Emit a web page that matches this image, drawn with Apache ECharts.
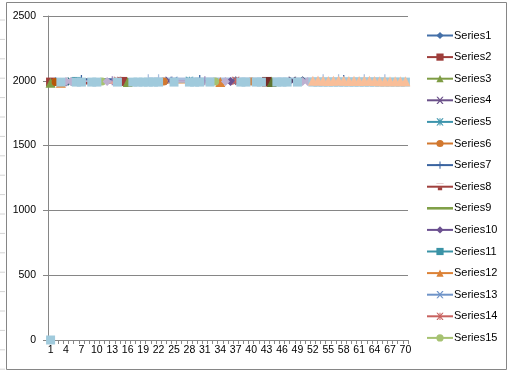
<!DOCTYPE html>
<html><head><meta charset="utf-8">
<script src="https://cdn.jsdelivr.net/npm/echarts@6/dist/echarts.min.js"></script>
<style>html,body{margin:0;padding:0;background:#fff}#c{width:511px;height:374px}</style>
</head><body><div id="c"></div>
<script>
const categories = ['1','2','3','4','5','6','7','8','9','10','11','12','13','14','15','16','17','18','19','20','21','22','23','24','25','26','27','28','29','30','31','32','33','34','35','36','37','38','39','40','41','42','43','44','45','46','47','48','49','50','51','52','53','54','55','56','57','58','59','60','61','62','63','64','65','66','67','68','69','70'];
const yTicks = [0, 500, 1000, 1500, 2000, 2500];

// sparse series: [categoryIndex(0-based), value]
const s1 = [[1,1995],[36,2000]];
const s2 = [[0,1990],[14,1995],[42,1990]];
const s3 = [[0,1985],[15,1990],[43,1995]];
const s4 = [[23,2000],[47,1995]];
const s5 = [[2,1990],[27,2000]];
const s6 = [[1,1990],[22,1995],[39,1995]];
const s7 = [[6,2010],[29,2010],[57,2010]];
const s8 = [[7,1995],[18,1995],[44,2000]];
const s9 = [[9,1995],[10,1995],[25,1995],[26,1995]];
const s10 = [[3,1990],[35,1995]];
const s11 = [[5,1995]];
const s12 = [[2,1985],[33,1990]];
const s13 = [[24,2000]];
const s14 = [[13,2000],[36,2000]];
const s15 = [[10,1995],[32,1995]];
const s16 = [[12,2000],[30,2000]];
const s17 = [[42,1995]];
const s18 = [[39,1995],[33,1995]];
const s19 = [[49,2000]];
const s20 = [[42,1995]];
const s21 = [[43,1990]];
const s22 = [[47,2000]];
const s23 = [[4,1995]];
const s24 = [[1,1990]];
const s25 = [[19,2015],[21,2015],[53,2015],[56,2015],[61,2015],[65,2015]];
const s26 = [[12,2000],[13,2000]];
const s27 = [[15,1995]];
const s28 = [[3,1995],[4,1995],[11,1995],[34,1995],[49,1995],[50,1995]];
const s29 = [0,null,1990,null,null,1990,1990,null,1990,1990,null,null,null,1990,null,null,1990,1990,1990,1990,1990,1990,null,null,1990,null,null,1990,1990,1990,null,1990,null,null,null,null,null,1990,1990,null,1990,1990,null,null,1990,1990,1990,null,1990,null,null,1990,1990,1990,1990,1990,1990,1990,1990,1990,1990,1990,1990,1990,1990,1990,1990,1990,1990,1990];
const s30 = [null,null,null,null,null,null,null,null,null,null,null,null,null,null,null,null,null,null,null,null,null,null,null,null,null,null,null,null,null,null,null,null,null,null,null,null,null,null,null,null,null,null,null,null,null,null,null,null,null,null,null,2000,2002,2000,1998,2000,2002,2000,1998,2000,1998,2000,2000,1998,1996,1996,1996,1996,1996,1996];

const seriesData = [s1,s2,s3,s4,s5,s6,s7,s8,s9,s10,s11,s12,s13,s14,s15,s16,s17,s18,s19,s20,s21,s22,s23,s24,s25,s26,s27,s28,s29,s30];
const colors = ['#4470A8','#9E3D3A','#7E9C44','#6A5089','#3C94AC','#D2782F',
  '#3A64A0','#A0403D','#80A048','#6B5090','#3A93A6','#DC8236',
  '#6F94C8','#C8625F','#A6C271','#9A85B8','#79C0D6','#F8B07A',
  '#2C4D75','#772C2A','#5F7530','#4D3B62','#276A7C','#B65708',
  '#A7BEDE','#DCA4A3','#C9DAA8','#BDB0D0','#A0CADC','#F9BE98'];
const X = 'path://M0,0L2,0L5,3.5L8,0L10,0L6,5L10,10L8,10L5,6.5L2,10L0,10L4,5Z';
const STAR = 'path://M0,0L2,0L4.3,3.2L4.3,0L5.7,0L5.7,3.2L8,0L10,0L6,5L10,10L8,10L5.7,6.8L5.7,10L4.3,10L4.3,6.8L2,10L0,10L4,5Z';
const PLUS = 'path://M4.3,0H5.7V4.3H10V5.7H5.7V10H4.3V5.7H0V4.3H4.3Z';
const DASH = 'path://M0,0H10V0.1H0ZM2,4H8V7H2Z';
const symbols = ['diamond','rect','triangle',X,STAR,'circle',PLUS,DASH,'none'];
const sizes = [9,9,10,8,8,8,9,9,0];

const series = seriesData.map((d,i)=>({
  name: 'Series' + (i+1),
  type: 'line',
  data: d,
  symbol: symbols[i%9],
  symbolSize: sizes[i%9],
  symbolKeepAspect: true,
  showAllSymbol: true,
  clip: false,
  color: colors[i],
  lineStyle: {width: 2.5, color: colors[i]},
  itemStyle: {color: colors[i]},
  emphasis: {disabled: true}
}));

const legendNames = ['Series1','Series2','Series3','Series4','Series5','Series6','Series7','Series8','Series9','Series10','Series11','Series12','Series13','Series14','Series15'];
const legendData = legendNames.map(n => n === 'Series9'
  ? {name: n, icon: 'path://M0,4H25V6.5H0Z', itemStyle:{color: colors[8]}}
  : {name: n});

const chart = echarts.init(document.getElementById('c'), null, {renderer:'canvas'});
const leftLines = [];
for (let k = 0; k < 19; k++) {
  leftLines.push({type:'line', shape:{x1:0,y1:20+k*19.4,x2:5,y2:20+k*19.4}, style:{stroke:'#D4D4D4',lineWidth:1}, silent:true});
}
chart.setOption({
  animation: false,
  textStyle: {fontFamily: 'Liberation Sans'},
  graphic: [
    {type:'rect', shape:{x:6.5,y:2.5,width:500,height:367}, style:{fill:'none',stroke:'#868686',lineWidth:1}, silent:true}
  ].concat(leftLines),
  grid: {left: 48, right: 103, top: 16, bottom: 34},
  legend: {
    orient: 'vertical',
    left: 421, top: 24,
    data: legendData,
    itemWidth: 26, itemHeight: 9, itemGap: 8.6,
    textStyle: {fontSize: 11, color: '#000', lineHeight: 13, fontFamily: 'Liberation Sans', padding:[0,0,0,-4]},
    selectedMode: false
  },
  xAxis: {
    type: 'category', data: categories, boundaryGap: true,
    axisLine: {lineStyle: {color: '#868686', width: 1}},
    axisTick: {show: true, interval: 0, length: 4, lineStyle: {color: '#868686'}},
    axisLabel: {interval: 2, color: '#000', fontSize: 10.5, margin: 5, fontFamily: 'Liberation Sans'},
    splitLine: {show: false}
  },
  yAxis: {
    type: 'value', min: 0, max: 2500, interval: 500,
    axisLine: {show: true, lineStyle: {color: '#868686', width: 1}},
    axisTick: {show: true, length: 5, lineStyle: {color: '#868686'}},
    axisLabel: {color: '#000', fontSize: 10.5, margin: 12, fontFamily: 'Liberation Sans',
      formatter: v => yTicks.includes(v) ? String(v) : ''},
    splitLine: {show: true, lineStyle: {color: '#868686', width: 1}}
  },
  series: series
});
</script></body></html>
